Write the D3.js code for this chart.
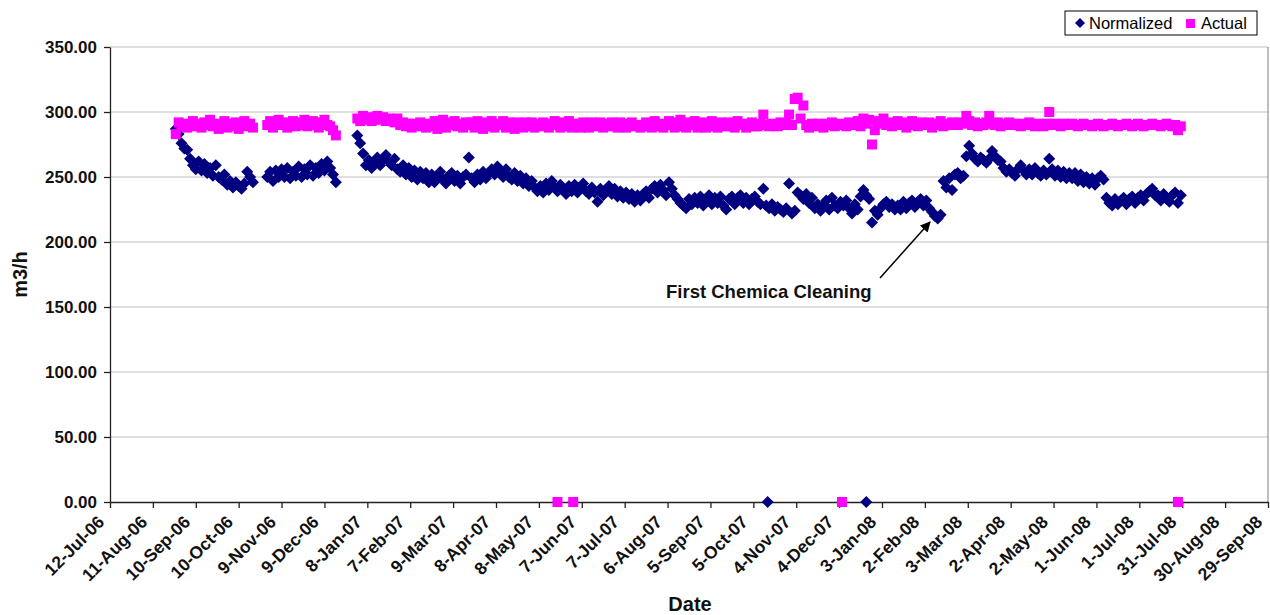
<!DOCTYPE html>
<html>
<head>
<meta charset="utf-8">
<script src="https://cdn.jsdelivr.net/npm/d3@7"></script>
<style>
  body { margin: 0; background: #fff; }
  svg { font-family: "Liberation Sans", Arial, sans-serif; }
</style>
</head>
<body>
<svg width="1270" height="615"></svg>
<script>
const width = 1270;
const height = 615;

const yTicks = [0, 50, 100, 150, 200, 250, 300, 350];
const xTickLabels = ["12-Jul-06", "11-Aug-06", "10-Sep-06", "10-Oct-06", "9-Nov-06", "9-Dec-06",
  "8-Jan-07", "7-Feb-07", "9-Mar-07", "8-Apr-07", "8-May-07", "7-Jun-07", "7-Jul-07", "6-Aug-07",
  "5-Sep-07", "5-Oct-07", "4-Nov-07", "4-Dec-07", "3-Jan-08", "2-Feb-08", "3-Mar-08", "2-Apr-08",
  "2-May-08", "1-Jun-08", "1-Jul-08", "31-Jul-08", "30-Aug-08", "29-Sep-08"];

// readings every 2 days from the start of each run
const stepDays = 2;
const segStarts = ["27-Aug-06", "30-Oct-06", "1-Jan-07"];

const normA = [287, 283, 276, 272, 271, 264, 259, 256, 262, 255, 260, 253, 257, 251,
  259, 250, 248, 252, 244, 247, 242, 246, 243, 241, 245, 254, 250, 246];
const actualA = [283, 292, 289, 291, 288, 290, 293, 289, 291, 288, 292, 290, 294, 289,
  291, 287, 290, 293, 288, 291, 289, 292, 287, 290, 293, 289, 291, 288];

const normB = [250, 254, 247, 255, 250, 256, 250, 257, 249, 254, 251, 258, 250,
  256, 252, 259, 251, 257, 253, 260, 255, 262, 257, 252, 246];
const actualB = [290, 293, 288, 291, 294, 290, 292, 288, 291, 293, 289, 292, 290,
  294, 289, 291, 293, 290, 288, 292, 294, 290, 289, 286, 282];

const normC = [
  282, 276, 268, 259, 263, 257, 262, 265, 259, 263,
  267, 262, 259, 264, 256, 254, 259, 252, 257, 250,
  255, 248, 254, 249, 253, 246, 252, 246, 251, 254,
  248, 245, 251, 253, 247, 251, 245, 250, 252, 265,
  249, 246, 252, 248, 254, 249, 253, 256, 252, 258,
  255, 250, 256, 250, 248, 253, 247, 251, 245, 249,
  243, 247, 242, 239, 243, 238, 245, 240, 247, 242,
  239, 244, 240, 237, 243, 239, 244, 238, 242, 245,
  239, 237, 242, 238, 231, 241, 236, 240, 243, 237,
  241, 235, 239, 234, 238, 233, 237, 231, 236, 232,
  237, 239, 234, 241, 243, 238, 244, 240, 236, 246,
  241, 236, 233, 230, 228, 226, 233, 229, 234, 230,
  235, 228, 233, 236, 229, 234, 230, 235, 228, 225,
  233, 235, 229, 234, 236, 230, 234, 229, 233, 235,
  231, 229, 241, 228, 226, 229, 224, 227, 225, 223,
  226, 245, 222, 224, 238, 236, 233, 237, 230, 234,
  226, 229, 224, 228, 232, 225, 234, 228, 226, 231,
  228, 232, 226, 222, 229, 225, 235, 240, 236, 233,
  215, 224, 221, 226, 229, 231, 227, 229, 225, 228,
  225, 231, 226, 230, 232, 227, 231, 233, 228, 232,
  226, 223, 220, 218, 221, 247, 242, 249, 240, 252,
  253, 249, 251, 266, 274, 268, 264, 262, 265, 263,
  261, 264, 270, 266, 263, 262, 257, 254, 256, 253,
  251, 256, 259, 255, 252, 256, 252, 257, 253, 251,
  255, 252, 264, 256, 251, 255, 250, 254, 249, 253,
  249, 253, 247, 252, 246, 250, 245, 249, 244, 249,
  251, 248, 234, 230, 228, 233, 229, 232, 234, 229,
  233, 235, 230, 234, 236, 232, 237, 239, 241, 236,
  236, 232, 237, 233, 231, 236, 238, 230, 236];
const actualC = [
  295, 293, 297, 294, 296, 293, 295, 297, 294, 296,
  293, 295, 294, 292, 295, 290, 292, 289, 291, 288,
  291, 289, 292, 290, 288, 291, 289, 293, 287, 292,
  294, 288, 292, 290, 293, 289, 291, 288, 292, 290,
  292, 288, 293, 290, 287, 292, 289, 293, 288, 291,
  290, 293, 288, 292, 289, 287, 292, 290, 288, 292,
  289, 292, 288, 291, 289, 292, 290, 288, 291, 293,
  290, 288, 292, 289, 293, 288, 291, 290, 288, 292,
  291, 288, 292, 290, 289, 292, 288, 291, 289, 292,
  290, 288, 292, 290, 288, 291, 292, 289, 290, 288,
  289, 292, 290, 288, 293, 289, 291, 288, 290, 293,
  290, 288, 292, 294, 289, 288, 292, 290, 293, 288,
  290, 292, 288, 291, 293, 289, 288, 292, 290, 289,
  292, 289, 288, 293, 290, 291, 288, 290, 292, 289,
  289, 291, 298, 290, 289, 291, 290, 289, 292, 290,
  291, 298, 290, 310, 311, 295, 305, 290, 288, 291,
  289, 291, 290, 288, 291, 290, 292, 289, 290, 291,
  290, 289, 292, 290, 291, 293, 289, 295, 291, 294,
  275, 286, 293, 291, 295, 290, 292, 289, 291, 293,
  290, 292, 288, 291, 293, 290, 289, 292, 291, 290,
  292, 288, 291, 290, 293, 289, 291, 290, 292, 291,
  290, 292, 291, 297, 293, 290, 292, 289, 291, 290,
  292, 297, 291, 290, 292, 289, 291, 290, 292, 290,
  291, 290, 289, 291, 290, 292, 290, 289, 291, 290,
  289, 291, 300, 290, 291, 290, 289, 291, 290, 290,
  291, 290, 289, 290, 291, 290, 290, 289, 290, 291,
  290, 289, 290, 290, 291, 290, 289, 290, 290, 291,
  290, 289, 290, 291, 290, 289, 290, 290, 291, 290,
  290, 289, 290, 291, 290, 289, 290, 286, 289];

// days when the plant was off (value 0)
const normZeroDates = ["15-Oct-07", "23-Dec-07"];
const actualZeroDates = ["21-May-07", "1-Jun-07", "6-Dec-07", "28-Jul-08"];

const parseDate = d3.utcParse("%d-%b-%y");

function buildSeries(starts, runs, zeroDates) {
  const pts = [];
  runs.forEach((vals, k) => {
    const t0 = parseDate(starts[k]);
    vals.forEach((v, i) => pts.push({ date: d3.utcDay.offset(t0, i * stepDays), value: v }));
  });
  zeroDates.forEach(d => pts.push({ date: parseDate(d), value: 0 }));
  return pts;
}

const normalized = buildSeries(segStarts, [normA, normB, normC], normZeroDates);
const actual = buildSeries(segStarts, [actualA, actualB, actualC], actualZeroDates);

const margin = { left: 110, right: 2, top: 47, bottom: 113 };
const plotRight = width - margin.right;
const plotBottom = height - margin.bottom;

const xTicks = xTickLabels.map(parseDate);
const x = d3.scaleUtc()
  .domain([xTicks[0], xTicks[xTicks.length - 1]])
  .range([margin.left, plotRight]);
const y = d3.scaleLinear()
  .domain([0, 350])
  .range([plotBottom, margin.top]);

const svg = d3.select('svg');

// gridlines
svg.append('g')
  .selectAll('line')
  .data(yTicks.filter(t => t > 0))
  .enter().append('line')
    .attr('x1', margin.left)
    .attr('x2', plotRight)
    .attr('y1', d => y(d))
    .attr('y2', d => y(d))
    .attr('stroke', '#c0c0c0')
    .attr('stroke-width', 1.2);

svg.append('line')
  .attr('x1', plotRight).attr('x2', plotRight)
  .attr('y1', margin.top).attr('y2', plotBottom)
  .attr('stroke', '#808080')
  .attr('stroke-width', 1);

// axes
const yAxis = svg.append('g')
  .attr('transform', `translate(${margin.left},0)`)
  .call(d3.axisLeft(y).tickValues(yTicks).tickFormat(d3.format('.2f')).tickSize(6).tickSizeOuter(0));
yAxis.selectAll('text')
  .attr('x', -13)
  .attr('font-size', 17)
  .attr('font-weight', 'bold')
  .attr('fill', '#111');

const xAxis = svg.append('g')
  .attr('transform', `translate(0,${plotBottom})`)
  .call(d3.axisBottom(x).tickValues(xTicks).tickFormat((d, i) => xTickLabels[i]).tickSize(6).tickSizeOuter(0));
xAxis.selectAll('text')
  .attr('x', 0)
  .attr('y', 0)
  .attr('dy', 0)
  .attr('text-anchor', 'end')
  .attr('transform', 'translate(-5,21) rotate(-45)')
  .attr('font-size', 17.5)
  .attr('font-weight', 'bold')
  .attr('fill', '#111');

svg.selectAll('.domain, .tick line').attr('stroke', '#222').attr('stroke-width', 1.3);

// axis titles
svg.append('text')
  .attr('transform', `translate(27,${(margin.top + plotBottom) / 2}) rotate(-90)`)
  .attr('text-anchor', 'middle')
  .attr('font-size', 20)
  .attr('font-weight', 'bold')
  .attr('fill', '#111')
  .text('m3/h');

svg.append('text')
  .attr('x', 690)
  .attr('y', 611)
  .attr('text-anchor', 'middle')
  .attr('font-size', 20)
  .attr('font-weight', 'bold')
  .attr('fill', '#111')
  .text('Date');

// markers
const diamond = 'M0,-6L6,0L0,6L-6,0Z';
const square = d3.symbol().type(d3.symbolSquare).size(100)();

svg.append('g')
  .selectAll('path')
  .data(normalized)
  .enter().append('path')
    .attr('d', diamond)
    .attr('transform', d => `translate(${x(d.date)},${y(d.value)})`)
    .attr('fill', '#000080');

svg.append('g')
  .selectAll('path')
  .data(actual)
  .enter().append('path')
    .attr('d', square)
    .attr('transform', d => `translate(${x(d.date)},${y(d.value)})`)
    .attr('fill', '#ff00ff');

// annotation
svg.append('defs').append('marker')
  .attr('id', 'arrow')
  .attr('viewBox', '0 0 10 10')
  .attr('refX', 9).attr('refY', 5)
  .attr('markerWidth', 7).attr('markerHeight', 7)
  .attr('orient', 'auto')
  .append('path')
    .attr('d', 'M0,0L10,5L0,10Z')
    .attr('fill', '#000');

svg.append('line')
  .attr('x1', 880).attr('y1', 278)
  .attr('x2', 930).attr('y2', 222)
  .attr('stroke', '#000')
  .attr('stroke-width', 1.5)
  .attr('marker-end', 'url(#arrow)');

svg.append('text')
  .attr('x', 666)
  .attr('y', 298)
  .attr('font-size', 18.5)
  .attr('font-weight', 'bold')
  .attr('fill', '#111')
  .text('First Chemica Cleaning');

// legend
const legend = svg.append('g').attr('transform', 'translate(1065,11)');
legend.append('rect')
  .attr('width', 192).attr('height', 24)
  .attr('fill', '#fff')
  .attr('stroke', '#000')
  .attr('stroke-width', 1);
legend.append('path')
  .attr('d', 'M0,-5L5,0L0,5L-5,0Z')
  .attr('transform', 'translate(15,12)')
  .attr('fill', '#000080');
legend.append('text')
  .attr('x', 24).attr('y', 18)
  .attr('font-size', 16.5)
  .text('Normalized');
legend.append('rect')
  .attr('x', 121).attr('y', 8)
  .attr('width', 9).attr('height', 9)
  .attr('fill', '#ff00ff');
legend.append('text')
  .attr('x', 136).attr('y', 18)
  .attr('font-size', 16.5)
  .text('Actual');
</script>
</body>
</html>
